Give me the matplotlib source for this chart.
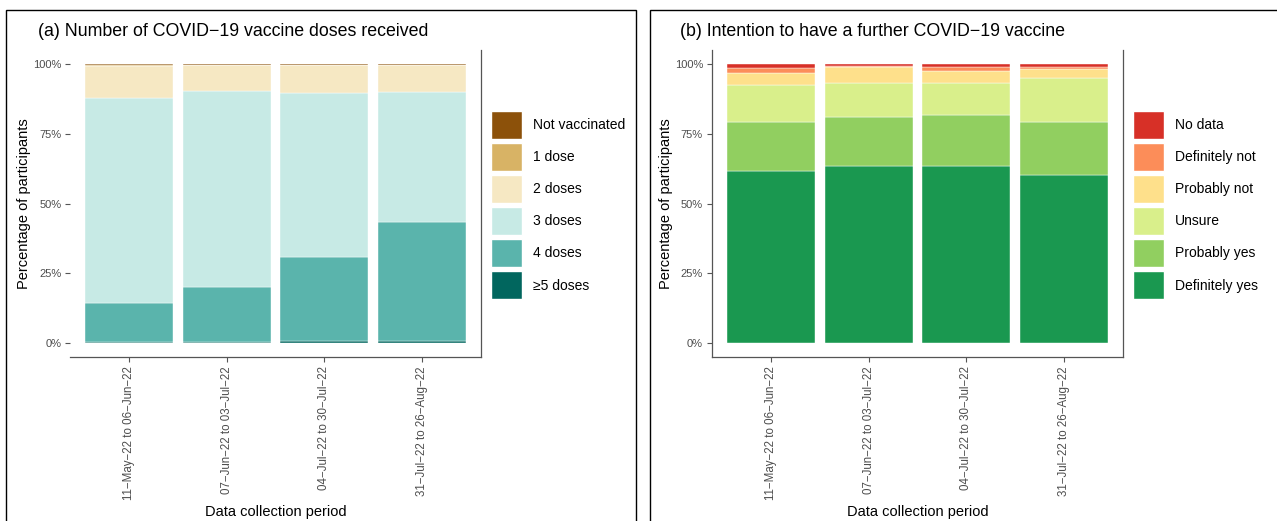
import numpy as np
import matplotlib
matplotlib.use('Agg')
from matplotlib import pyplot as plt
from matplotlib.patches import Patch, Rectangle

plt.rcParams['font.family'] = ['Liberation Sans', 'DejaVu Sans']

periods = ['11\u2212May\u221222 to 06\u2212Jun\u221222',
           '07\u2212Jun\u221222 to 03\u2212Jul\u221222',
           '04\u2212Jul\u221222 to 30\u2212Jul\u221222',
           '31\u2212Jul\u221222 to 26\u2212Aug\u221222']

# (a) doses received, % of participants, bottom to top
dose_labels = ['\u22655 doses', '4 doses', '3 doses', '2 doses', '1 dose', 'Not vaccinated']
dose_5plus = [0.2, 0.2, 0.9, 0.8]
dose_4 = [14.0, 19.8, 29.9, 42.6]
dose_3 = [73.7, 70.3, 58.8, 46.7]
dose_2 = [11.3, 9.3, 10.0, 9.5]
dose_1 = [0.4, 0.1, 0.1, 0.1]
dose_none = [0.4, 0.3, 0.3, 0.3]
dose_colors = ['#01665e', '#5ab4ac', '#c7eae5', '#f6e8c3', '#d8b365', '#8c510a']

# (b) intention to have a further vaccine, bottom to top
int_labels = ['Definitely yes', 'Probably yes', 'Unsure', 'Probably not', 'Definitely not', 'No data']
def_yes = [61.6, 63.4, 63.4, 60.2]
prob_yes = [17.7, 17.6, 18.3, 19.1]
unsure = [13.1, 12.1, 11.5, 15.6]
prob_not = [4.5, 5.7, 4.4, 3.2]
def_not = [1.7, 0.6, 1.3, 0.9]
no_data = [1.4, 0.6, 1.1, 1.0]
int_colors = ['#1a9850', '#91cf60', '#d9ef8b', '#fee08b', '#fc8d59', '#d73027']

W, H = 1277, 521
fig = plt.figure(figsize=(W / 100, H / 100), dpi=100)

# panel frames
for x0, x1 in [(6, 636), (650, 1290)]:
    fig.patches.append(Rectangle((x0 / W, -0.05), (x1 - x0) / W, 1.05 - 10 / H,
                                 transform=fig.transFigure, fill=False,
                                 edgecolor='black', linewidth=1.0))

axcol = '#555555'
tickcol = '#4d4d4d'


def stacked(ax, series, colors, labels, title, left_spine, leg_x, title_x):
    x = np.arange(1, len(periods) + 1)
    bottom = np.zeros(len(periods))
    handles = []
    for vals, col, lab in zip(series, colors, labels):
        vals = np.array(vals) / 100
        ax.bar(x, vals, width=0.9, bottom=bottom, color=col,
               edgecolor='white', linewidth=0.3)
        bottom += vals
        handles.append(Patch(facecolor=col, edgecolor='white', label=lab))
    ax.set_xlim(0.4, 4.6)
    ax.set_ylim(-0.05, 1.05)
    ax.set_yticks([0, 0.25, 0.5, 0.75, 1.0])
    ax.set_yticklabels(['0%', '25%', '50%', '75%', '100%'])
    ax.set_xticks(x)
    ax.set_xticklabels(periods, rotation=90, va='top', ha='center')
    ax.tick_params(axis='both', colors=axcol, labelcolor=tickcol,
                   labelsize=8, length=3.5, width=0.8, pad=3)
    ax.tick_params(axis='x', labelsize=8.3)
    ax.spines['top'].set_visible(False)
    ax.spines['left'].set_visible(left_spine)
    for s in ['bottom', 'right', 'left']:
        ax.spines[s].set_color(axcol)
        ax.spines[s].set_linewidth(0.9)
    ax.set_xlabel('Data collection period', fontsize=10.5, labelpad=4)
    ax.set_ylabel('Percentage of participants', fontsize=10.5, labelpad=1.5)
    fig.text(title_x / W, 1 - 31 / H, title, fontsize=12.8,
             ha='left', va='center')
    fig.legend(handles=handles[::-1], loc='upper left',
               bbox_to_anchor=(leg_x / W, 1 - 111 / H), frameon=False,
               fontsize=10, handlelength=2.25, handleheight=2.73,
               labelspacing=0.29, handletextpad=0.75, borderpad=0,
               borderaxespad=0)


ax1 = fig.add_axes([70.4 / W, 1 - 357 / H, 410.2 / W, 307 / H])
stacked(ax1, [dose_5plus, dose_4, dose_3, dose_2, dose_1, dose_none],
        dose_colors, dose_labels, '(a) Number of COVID\u221219 vaccine doses received',
        False, 491, 38)

ax2 = fig.add_axes([712 / W, 1 - 357 / H, 411 / W, 307 / H])
stacked(ax2, [def_yes, prob_yes, unsure, prob_not, def_not, no_data],
        int_colors, int_labels, '(b) Intention to have a further COVID\u221219 vaccine',
        True, 1133, 680)

fig.savefig('out.png', dpi=100)
